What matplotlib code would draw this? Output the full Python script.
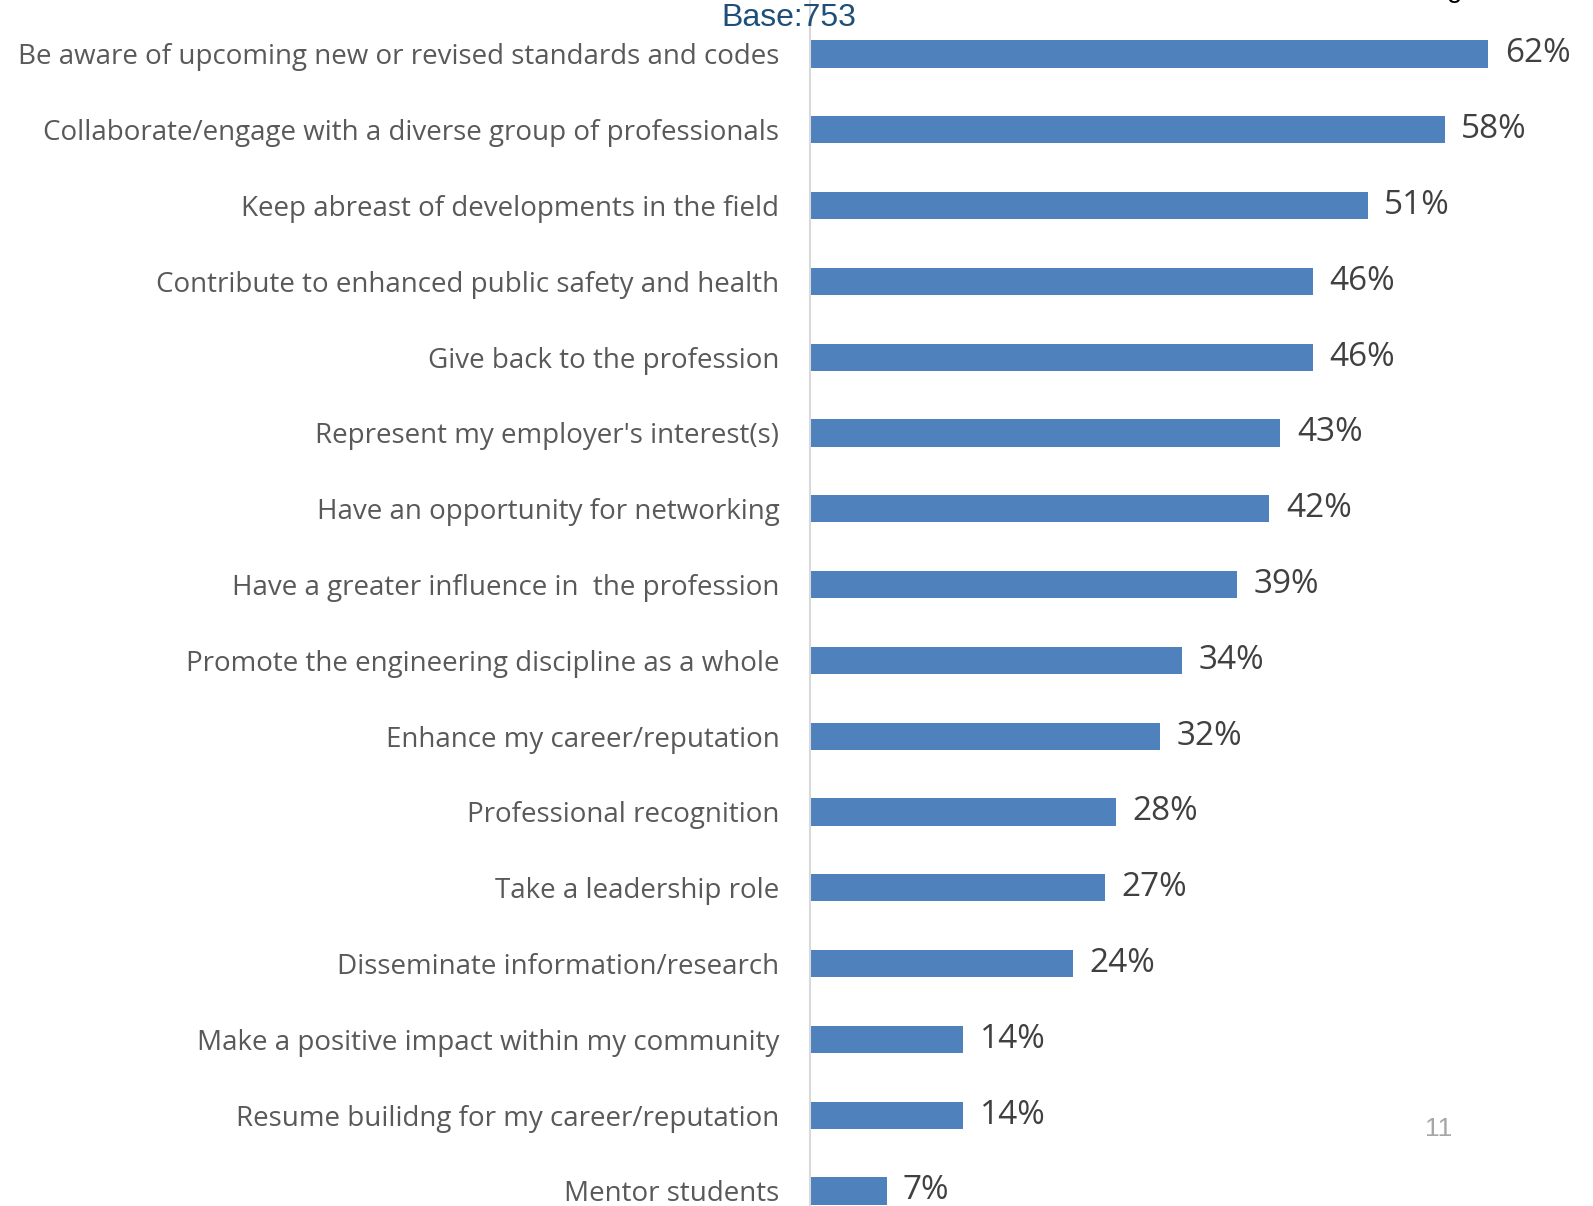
import matplotlib
matplotlib.use("Agg")
import matplotlib.pyplot as plt

categories = [
    "Be aware of upcoming new or revised standards and codes",
    "Collaborate/engage with a diverse group of professionals",
    "Keep abreast of developments in the field",
    "Contribute to enhanced public safety and health",
    "Give back to the profession",
    "Represent my employer's interest(s)",
    "Have an opportunity for networking",
    "Have a greater influence in  the profession",
    "Promote the engineering discipline as a whole",
    "Enhance my career/reputation",
    "Professional recognition",
    "Take a leadership role",
    "Disseminate information/research",
    "Make a positive impact within my community",
    "Resume builidng for my career/reputation",
    "Mentor students",
]
values = [62, 58, 51, 46, 46, 43, 42, 39, 34, 32, 28, 27, 24, 14, 14, 7]
value_labels = [f"{v}%" for v in values]

W, H = 1593, 1206
fig = plt.figure(figsize=(W / 100, H / 100), dpi=100)
ax = fig.add_axes([810 / W, 0, 1 - 810 / W, 1])

ypos = list(range(len(categories)))
ax.barh(ypos, values, height=0.36, color="#4f81bd")
ax.set_xlim(0, 783 / 10.94)
ax.set_ylim(15.198, -0.712)

# value labels next to each bar
for y, v, lab in zip(ypos, values, value_labels):
    ax.text(v + 1.5, y, lab, va="center", ha="left", fontsize=24,
            color="#404040", family="Open Sans", clip_on=False)

ax.set_yticks(ypos)
ax.set_yticklabels(categories, fontsize=20, color="#595959", family="Open Sans")
ax.tick_params(axis="y", length=0, pad=22)
ax.set_xticks([])
for s in ["top", "right", "bottom"]:
    ax.spines[s].set_visible(False)
ax.spines["left"].set_color("#d9d9d9")
ax.spines["left"].set_linewidth(1.5)

fig.text(789 / W, 1 - 18 / H, "Base:753", ha="center", va="center",
         fontsize=23, color="#1f4e79", family="Liberation Sans")
fig.text(1439 / W, 1 - 1129 / H, "11", ha="center", va="center",
         fontsize=19, color="#a6a6a6", family="Liberation Sans")
fig.text(1455 / W, 1 + 10 / H, "g", ha="center", va="center",
         fontsize=20, color="black", family="Liberation Sans")

fig.savefig("out.png", dpi=100)
